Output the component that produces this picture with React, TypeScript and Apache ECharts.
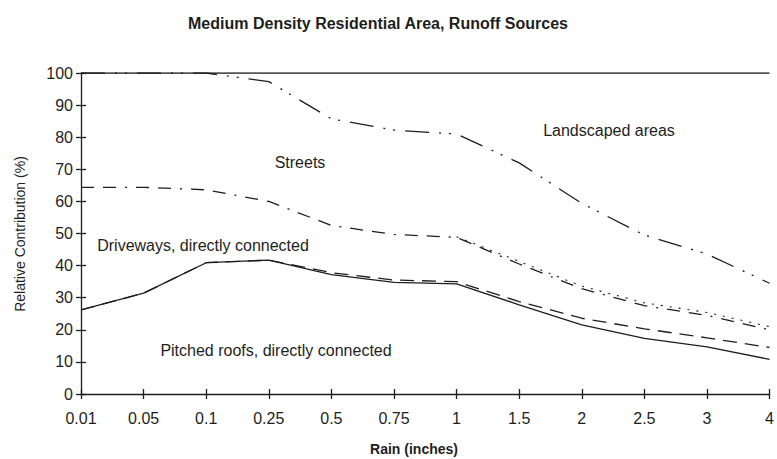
import React, { useEffect, useRef } from "react";
import * as echarts from "echarts";

const rainCategories = ["0.01", "0.05", "0.1", "0.25", "0.5", "0.75", "1", "1.5", "2", "2.5", "3", "4"];
const totalLine = [100, 100, 100, 100, 100, 100, 100, 100, 100, 100, 100, 100];
const streetsTop = [100, 100, 100, 97.3, 85.7, 82.2, 81, 72, 59.4, 49.5, 43.6, 34.5];
const drivewaysTop = [64.4, 64.4, 63.6, 60, 52.5, 49.7, 48.8, 40.5, 32.8, 27.5, 24.5, 20];
const drivewaysTopAlt = [null, null, null, null, null, null, 49, 41.3, 33.6, 28.4, 25.4, 21];
const dashedLine = [26.2, 31.4, 40.9, 41.7, 37.8, 35.5, 35, 28.8, 23.6, 20.3, 17.5, 14.5];
const roofsTop = [26.2, 31.4, 40.9, 41.7, 37.2, 34.8, 34.3, 27.8, 21.5, 17.3, 14.7, 10.8];
const yTicks = { min: 0, max: 100, interval: 10 };

const FONT = "'Liberation Sans', Arial, sans-serif";
const INK = "#1e1e1e";

export default function App() {
  const ref = useRef<HTMLDivElement>(null);
  useEffect(() => {
    if (!ref.current) return;
    const chart = echarts.init(ref.current, null, { renderer: "svg" });
    const mk = (name: string, data: (number | null)[], type: any, width = 1.3) => ({
      name,
      type: "line",
      data,
      symbol: "none",
      xAxisIndex: 0,
      yAxisIndex: 0,
      connectNulls: false,
      lineStyle: { color: INK, width, type },
    });
    chart.setOption({
      animation: false,
      backgroundColor: "#fff",
      textStyle: { fontFamily: FONT },
      grid: { left: 81, right: 5, top: 73, bottom: 65, containLabel: false },
      xAxis: [
        {
          type: "category",
          data: rainCategories,
          boundaryGap: false,
          axisLine: { lineStyle: { color: INK, width: 1.3 } },
          axisTick: { show: true, length: 5, alignWithLabel: true, lineStyle: { color: INK, width: 1.3 } },
          axisLabel: { color: INK, fontSize: 16, margin: 16, fontFamily: FONT },
          splitLine: { show: false },
        },
        {
          type: "category",
          data: rainCategories,
          boundaryGap: false,
          position: "bottom",
          axisLine: { show: false },
          axisTick: { show: true, inside: true, length: 5, lineStyle: { color: INK, width: 1.3 } },
          axisLabel: { show: false },
          splitLine: { show: false },
        },
      ],
      yAxis: [
        {
          type: "value",
          min: yTicks.min,
          max: yTicks.max,
          interval: yTicks.interval,
          axisLine: { show: true, lineStyle: { color: INK, width: 1.3 } },
          axisTick: { show: true, length: 5, lineStyle: { color: INK, width: 1.3 } },
          axisLabel: { color: INK, fontSize: 16, margin: 8, fontFamily: FONT },
          splitLine: { show: false },
        },
        {
          type: "value",
          min: yTicks.min,
          max: yTicks.max,
          interval: yTicks.interval,
          position: "left",
          axisLine: { show: false },
          axisTick: { show: true, inside: true, length: 5, lineStyle: { color: INK, width: 1.3 } },
          axisLabel: { show: false },
          splitLine: { show: false },
        },
      ],
      series: [
        mk("Total", totalLine, "solid", 1.4),
        mk("Streets / Landscaped", streetsTop, [24, 10, 2, 8, 2, 10]),
        mk("Driveways / Streets", drivewaysTop, [13, 9, 13, 9, 2, 9]),
        mk("Driveways / Streets (alt)", drivewaysTopAlt, [2, 7], 1.1),
        mk("Driveways upper", dashedLine, [14, 8]),
        mk("Pitched roofs", roofsTop, "solid"),
      ],
      graphic: [
        {
          type: "text",
          x: 378,
          y: 23,
          style: { text: "Medium Density Residential Area, Runoff Sources", font: `bold 16px ${FONT}`, fill: INK, align: "center", verticalAlign: "middle" },
        },
        {
          type: "text",
          x: 414,
          y: 449,
          style: { text: "Rain (inches)", font: `bold 14px ${FONT}`, fill: INK, align: "center", verticalAlign: "middle" },
        },
        {
          type: "text",
          x: 20,
          y: 234,
          rotation: Math.PI / 2,
          style: { text: "Relative Contribution (%)", font: `14px ${FONT}`, fill: INK, align: "center", verticalAlign: "middle" },
        },
        {
          type: "text",
          x: 300,
          y: 162,
          style: { text: "Streets", font: `16px ${FONT}`, fill: INK, align: "center", verticalAlign: "middle" },
        },
        {
          type: "text",
          x: 609,
          y: 130,
          style: { text: "Landscaped areas", font: `16px ${FONT}`, fill: INK, align: "center", verticalAlign: "middle" },
        },
        {
          type: "text",
          x: 203,
          y: 245,
          style: { text: "Driveways, directly connected", font: `16px ${FONT}`, fill: INK, align: "center", verticalAlign: "middle" },
        },
        {
          type: "text",
          x: 276,
          y: 350,
          style: { text: "Pitched roofs, directly connected", font: `16px ${FONT}`, fill: INK, align: "center", verticalAlign: "middle" },
        },
      ],
    });
    return () => chart.dispose();
  }, []);
  return <div ref={ref} style={{ width: 777, height: 459, position: "absolute", left: 0, top: 0 }} />;
}
